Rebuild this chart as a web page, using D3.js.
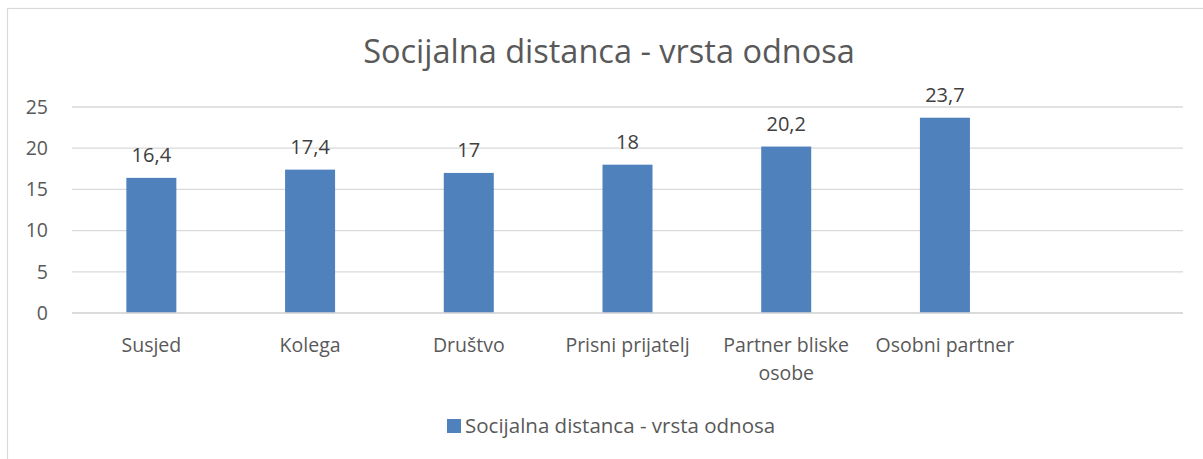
<!DOCTYPE html>
<html>
<head>
<meta charset="utf-8">
<script src="https://cdn.jsdelivr.net/npm/d3@7"></script>
<style>
  body { margin: 0; background: #fff; }
  text { font-family: "Open Sans", "Noto Sans", sans-serif; }
</style>
</head>
<body>
<svg id="chart"></svg>
<script>
var categories = ["Susjed", "Kolega", "Društvo", "Prisni prijatelj", "Partner bliske osobe", "Osobni partner", ""];
var values = [16.4, 17.4, 17, 18, 20.2, 23.7, null];
var valueLabels = ["16,4", "17,4", "17", "18", "20,2", "23,7", ""];
var yTicks = [0, 5, 10, 15, 20, 25];
var seriesName = "Socijalna distanca - vrsta odnosa";
var title = "Socijalna distanca - vrsta odnosa";

var width = 1203, height = 459,
    margin = {top: 107, right: 20, bottom: 146, left: 72},
    plotW = 1183 - margin.left,
    plotH = 313 - margin.top;

var svg = d3.select("#chart").attr("width", width).attr("height", height);

// outer chart border (right and bottom edges fall outside the picture)
svg.append("rect")
    .attr("x", 7.5).attr("y", 8.5)
    .attr("width", 1220).attr("height", 470)
    .attr("fill", "#fff").attr("stroke", "#d9d9d9").attr("stroke-width", 1.2);

var x = d3.scaleBand().domain(categories).range([0, plotW]).paddingInner(0.685).paddingOuter(0.3425);
var y = d3.scaleLinear().domain([0, 25]).range([plotH, 0]);

var g = svg.append("g").attr("transform", "translate(" + margin.left + "," + margin.top + ")");

// gridlines
g.selectAll(".grid").data(yTicks).enter().append("line")
    .attr("x1", 0).attr("x2", plotW)
    .attr("y1", function(d){ return y(d); }).attr("y2", function(d){ return y(d); })
    .attr("stroke", "#d9d9d9").attr("stroke-width", 1.3);

// y axis labels
var yAxis = d3.axisLeft(y).tickValues(yTicks).tickSize(0).tickPadding(24);
var ya = g.append("g").call(yAxis);
ya.select(".domain").remove();
ya.selectAll("text").attr("font-size", 19.5).attr("font-family", null).attr("fill", "#595959");

// bars
var data = categories.map(function(c, i){ return {c: c, v: values[i], l: valueLabels[i]}; })
    .filter(function(d){ return d.v != null; });

g.selectAll(".bar").data(data).enter().append("rect")
    .attr("x", function(d){ return x(d.c); })
    .attr("width", x.bandwidth())
    .attr("y", function(d){ return y(d.v); })
    .attr("height", function(d){ return plotH - y(d.v); })
    .attr("fill", "#4f81bd");

g.selectAll(".vlab").data(data).enter().append("text")
    .attr("x", function(d){ return x(d.c) + x.bandwidth()/2; })
    .attr("y", function(d){ return y(d.v) - 16; })
    .attr("text-anchor", "middle")
    .attr("font-size", 20).attr("fill", "#404040")
    .text(function(d){ return d.l; });

// x axis line
g.append("line").attr("x1", 0).attr("x2", plotW).attr("y1", plotH).attr("y2", plotH)
    .attr("stroke", "#d9d9d9").attr("stroke-width", 1.5);

// category labels with wrapping
function wrapLines(s) {
  if (s.length <= 17) return [s];
  var words = s.split(" ");
  return [words.slice(0, 2).join(" "), words.slice(2).join(" ")];
}
var xl = g.selectAll(".xlab").data(categories).enter().append("text")
    .attr("text-anchor", "middle")
    .attr("font-size", 19.5).attr("fill", "#595959")
    .attr("transform", function(d){ return "translate(" + (x(d) + x.bandwidth()/2) + "," + (plotH + 39) + ")"; });
xl.selectAll("tspan").data(function(d){ return wrapLines(d); }).enter().append("tspan")
    .attr("x", 0).attr("dy", function(d, i){ return i ? 28 : 0; })
    .text(function(d){ return d; });

// title
svg.append("text").attr("x", 609).attr("y", 63)
    .attr("text-anchor", "middle").attr("font-size", 32.5).attr("fill", "#595959")
    .text(title);

// legend
var lg = svg.append("g").attr("transform", "translate(447,419)");
lg.append("rect").attr("width", 14).attr("height", 14).attr("fill", "#4f81bd");
lg.append("text").attr("x", 18).attr("y", 14).attr("font-size", 20.5).attr("fill", "#595959").text(seriesName);
</script>
</body>
</html>
